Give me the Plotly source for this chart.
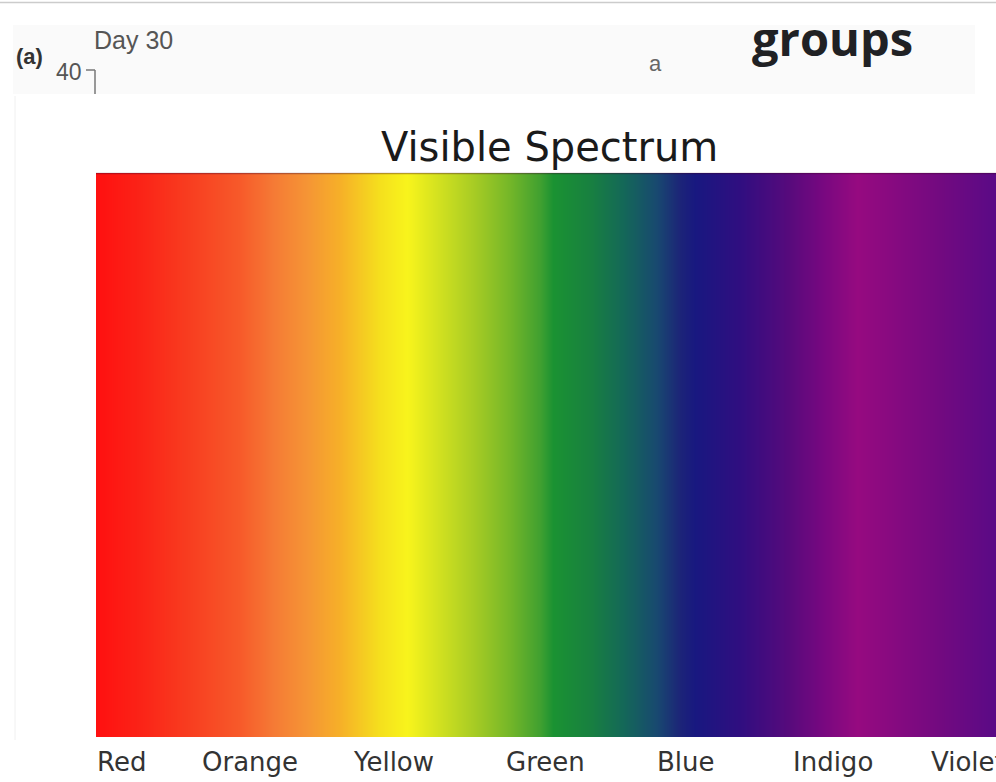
"""Visible Spectrum グラデーション図"""

import plotly.graph_objects as go

# スペクトル上の位置 (0-100) と色
STOP_POS = [0, 4.9, 10.4, 16.0, 19.7, 23.4, 27.1, 31.6, 34.6, 38.2, 41.9, 45.7,
            49.3, 50.8, 54.9, 58.6, 62.3, 64.9, 66.6, 71.6, 77.1, 80.8, 84.6,
            88.2, 93.8, 100]
STOP_COLORS = ['#ff1010', '#fb2317', '#f83e20', '#f75a2a', '#f57a35', '#f59535',
               '#f6b028', '#f5e01d', '#f8f41c', '#d0e020', '#a8cc24', '#78b828',
               '#40a030', '#1a9232', '#188040', '#146858', '#184870', '#1c2478',
               '#181880', '#300e80', '#580a7c', '#780880', '#960a80', '#880a80',
               '#720a80', '#5a0a86']

# 色名ラベル
BAND_NAMES = ['Red', 'Orange', 'Yellow', 'Green', 'Blue', 'Indigo', 'Violet']
BAND_POS = [2.8, 17.1, 33.1, 49.9, 65.6, 81.9, 96.9]

W, H = 996, 782


def px_x(x):
    return x / W


def px_y(y):
    return 1 - y / H


colorscale = [[p / 100, c] for p, c in zip(STOP_POS, STOP_COLORS)]

fig = go.Figure()

fig.add_trace(go.Heatmap(
    x=STOP_POS,
    y=[0, 1],
    z=[STOP_POS, STOP_POS],
    zmin=0, zmax=100,
    colorscale=colorscale,
    zsmooth='best',
    showscale=False,
    hoverinfo='skip',
))

# 色名
for name, pos in zip(BAND_NAMES, BAND_POS):
    fig.add_annotation(
        x=pos, xref='x', y=px_y(762), yref='paper',
        text=name, showarrow=False,
        xanchor='center', yanchor='middle',
        font=dict(family='DejaVu Sans', size=26, color='#333333'),
    )

# タイトル
fig.add_annotation(
    x=px_x(549), xref='paper', y=px_y(147), yref='paper',
    text='Visible Spectrum', showarrow=False,
    xanchor='center', yanchor='middle',
    font=dict(family='DejaVu Sans', size=40, color='#1a1a1a'),
)

# 上部の切り抜き部分
top_texts = [
    ('(a)', 14, 57, dict(family='Liberation Sans', size=22, color='#333333'), True),
    ('40', 54, 72, dict(family='Liberation Sans', size=23, color='#555555'), False),
    ('Day 30', 92, 40, dict(family='Liberation Sans', size=25, color='#555555'), False),
    ('a', 647, 63, dict(family='Liberation Sans', size=22, color='#666666'), False),
]
for text, x, y, font, bold in top_texts:
    fig.add_annotation(
        x=px_x(x), xref='paper', y=px_y(y), yref='paper',
        text=f'<b>{text}</b>' if bold else text, showarrow=False,
        xanchor='left', yanchor='middle', font=font,
    )

fig.add_annotation(
    x=px_x(832), xref='paper', y=px_y(38), yref='paper',
    text='<b>groups</b>', showarrow=False,
    xanchor='center', yanchor='middle',
    font=dict(family='Open Sans', size=47, color='#202124'),
)

fig.update_layout(
    width=W, height=H,
    margin=dict(l=0, r=0, t=0, b=0),
    paper_bgcolor='white',
    plot_bgcolor='white',
    showlegend=False,
    xaxis=dict(domain=[px_x(96), 1], range=[0, 100], visible=False, fixedrange=True),
    yaxis=dict(domain=[px_y(737), px_y(173)], range=[0, 1], visible=False, fixedrange=True),
    shapes=[
        # 背景の薄いグレー枠
        dict(type='rect', xref='paper', yref='paper', layer='below',
             x0=px_x(13), x1=px_x(975), y0=px_y(94), y1=px_y(25),
             fillcolor='#fafafa', line=dict(width=0)),
        # 一番上の区切り線
        dict(type='line', xref='paper', yref='paper',
             x0=0, x1=1, y0=px_y(2.5), y1=px_y(2.5),
             line=dict(color='#cccccc', width=1.5)),
        # 軸の目盛り
        dict(type='line', xref='paper', yref='paper',
             x0=px_x(86), x1=px_x(95), y0=px_y(70), y1=px_y(70),
             line=dict(color='#777777', width=1.5)),
        dict(type='line', xref='paper', yref='paper',
             x0=px_x(95), x1=px_x(95), y0=px_y(70), y1=px_y(94),
             line=dict(color='#777777', width=1.5)),
        # 左端の薄い線
        dict(type='line', xref='paper', yref='paper', layer='below',
             x0=px_x(15), x1=px_x(15), y0=px_y(96), y1=px_y(740),
             line=dict(color='#f0f0f0', width=1)),
        # スペクトル上端の影
        dict(type='line', xref='paper', yref='paper',
             x0=px_x(96), x1=1, y0=px_y(173.5), y1=px_y(173.5),
             line=dict(color='rgba(60,0,40,0.35)', width=1.5)),
    ],
)

# ページ余白を消して 996x782 にぴったり収める
fig.write_html("out.html", config={'displayModeBar': False},
               post_script="document.body.style.margin='0';")
